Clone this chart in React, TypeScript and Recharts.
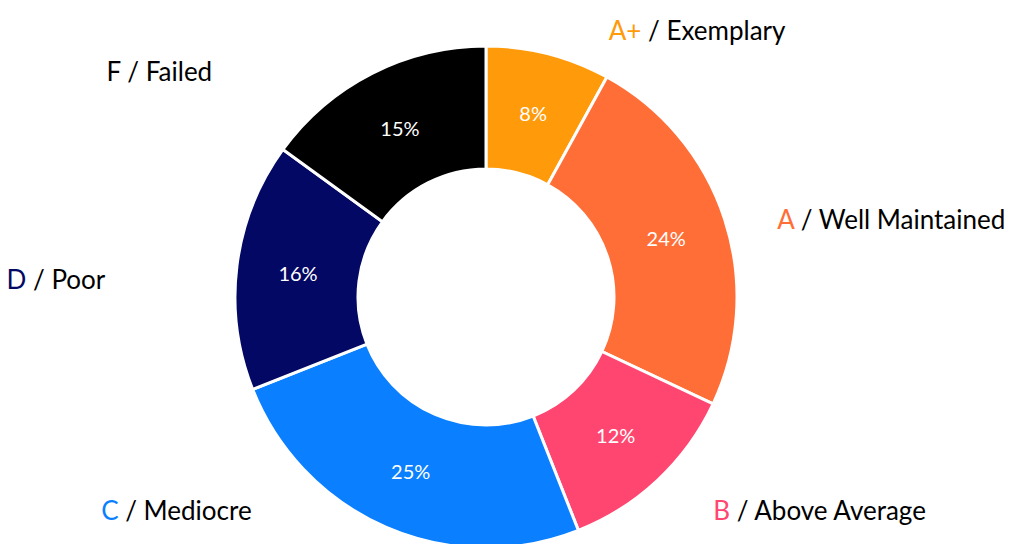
import { PieChart, Pie, Cell } from 'recharts';

const grades = ['A+', 'A', 'B', 'C', 'D', 'F'];
const descriptions = ['Exemplary', 'Well Maintained', 'Above Average', 'Mediocre', 'Poor', 'Failed'];
const shares = [8, 24, 12, 25, 16, 15];
const colors = ['#FF9A0A', '#FF6E37', '#FF4670', '#0A7FFF', '#020864', '#000000'];

const data = grades.map((g, i) => ({ grade: g, desc: descriptions[i], value: shares[i] }));

const RAD = Math.PI / 180;
const FONT = 'Lato, "Open Sans", sans-serif';

// outside label: coloured grade + black description, Excel-ish placement
const renderOuterLabel = (props: any) => {
  const { cx, cy, midAngle, index } = props;
  const c = Math.cos(-midAngle * RAD);
  const s = Math.sin(-midAngle * RAD);
  const right = c >= 0;
  const x = right ? cx + 63 + 240 * c : cx - (139 + 240 * -c + 29 * Math.max(0, -s));
  let y = right ? cy + 10 + s * 286 : cy + 16 + s * 272;
  y = Math.max(22, Math.min(510, y));
  const d = data[index];
  return (
    <text
      x={x}
      y={y}
      textAnchor={right ? 'start' : 'end'}
      dominantBaseline="central"
      fontFamily={FONT}
      fontSize={26}
      fill="#000"
    >
      <tspan fill={colors[index]}>{d.grade}</tspan>
      <tspan> / {d.desc}</tspan>
    </text>
  );
};

const renderInnerLabel = (props: any) => {
  const { cx, cy, midAngle, innerRadius, outerRadius, index } = props;
  const r = (innerRadius + outerRadius) / 2;
  const x = cx + r * Math.cos(-midAngle * RAD);
  const y = cy + r * Math.sin(-midAngle * RAD);
  return (
    <text
      x={x}
      y={y}
      textAnchor="middle"
      dominantBaseline="central"
      fontFamily={FONT}
      fontSize={20}
      fill="#fff"
    >
      {`${shares[index]}%`}
    </text>
  );
};

export default function App() {
  return (
    <div style={{ width: 1021, height: 544, background: '#fff' }}>
      <style>{'body{margin:0}'}</style>
      <PieChart width={1021} height={544} margin={{ top: 0, right: 0, bottom: 0, left: 0 }}>
        <Pie
          data={data}
          dataKey="value"
          nameKey="grade"
          cx={486}
          cy={297}
          innerRadius={128}
          outerRadius={251}
          startAngle={90}
          endAngle={-270}
          stroke="#fff"
          strokeWidth={3}
          label={renderInnerLabel}
          labelLine={false}
          isAnimationActive={false}
        >
          {data.map((d, i) => (
            <Cell key={d.grade} fill={colors[i]} />
          ))}
        </Pie>
        <Pie
          data={data}
          dataKey="value"
          cx={486}
          cy={297}
          innerRadius={0}
          outerRadius={0}
          startAngle={90}
          endAngle={-270}
          fill="none"
          stroke="none"
          label={renderOuterLabel}
          labelLine={false}
          isAnimationActive={false}
        />
      </PieChart>
    </div>
  );
}
